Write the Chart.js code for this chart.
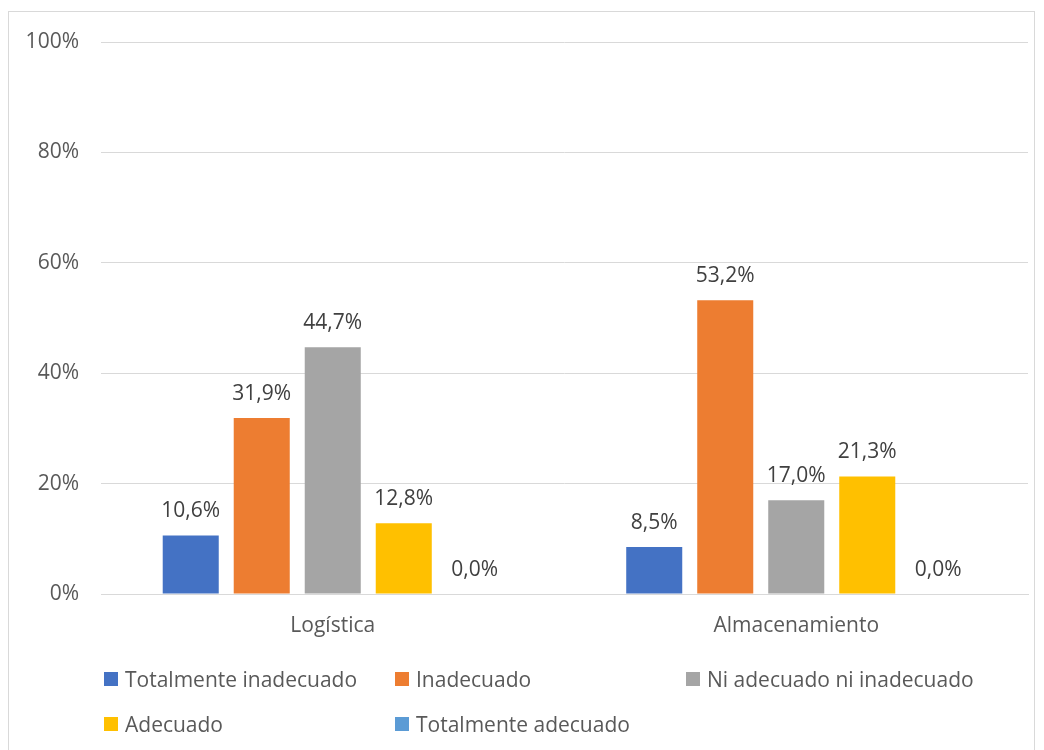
<!DOCTYPE html>
<html>
<head>
<meta charset="utf-8">
<script src="https://cdn.jsdelivr.net/npm/chart.js@4/dist/chart.umd.min.js"></script>
<style>
  html, body { margin: 0; padding: 0; background: #fff; }
  body { width: 1044px; height: 750px; position: relative; overflow: hidden; font-family: "Open Sans", sans-serif; }
  .frame { position: absolute; left: 8px; top: 11px; width: 1027px; height: 760px; border: 1px solid #d9d9d9; box-sizing: border-box; }
  .plot { position: absolute; left: 0; top: 0; width: 1044px; height: 650px; }
  .legend { position: absolute; left: 0; top: 0; width: 1044px; height: 750px; pointer-events: none; }
  .legend .item { position: absolute; display: flex; align-items: center; font-size: 21px; color: #595959; white-space: nowrap; }
  .legend .swatch { width: 14px; height: 14px; margin-right: 7px; }
</style>
</head>
<body>
<div class="frame"></div>
<div class="plot"><canvas id="chart"></canvas></div>
<div class="legend" id="legend"></div>
<script>
const categories = ['Logística', 'Almacenamiento'];
const seriesNames = ['Totalmente inadecuado', 'Inadecuado', 'Ni adecuado ni inadecuado', 'Adecuado', 'Totalmente adecuado'];
const totalmenteInadecuado = [10.6, 8.5];
const inadecuado = [31.9, 53.2];
const niAdecuadoNiInadecuado = [44.7, 17.0];
const adecuado = [12.8, 21.3];
const totalmenteAdecuado = [0.0, 0.0];
const yTicks = [0, 20, 40, 60, 80, 100];

const seriesValues = [totalmenteInadecuado, inadecuado, niAdecuadoNiInadecuado, adecuado, totalmenteAdecuado];
const colors = ['#4472C4', '#ED7D31', '#A5A5A5', '#FFC000', '#5B9BD5'];

const fmt = v => v.toFixed(1).replace('.', ',') + '%';

// Value labels drawn above each bar
const barLabels = {
  id: 'barLabels',
  afterDatasetsDraw(chart) {
    const ctx = chart.ctx;
    ctx.save();
    ctx.font = '21px "Open Sans", sans-serif';
    ctx.fillStyle = '#404040';
    ctx.textAlign = 'center';
    ctx.textBaseline = 'middle';
    chart.data.datasets.forEach((ds, i) => {
      chart.getDatasetMeta(i).data.forEach((bar, j) => {
        ctx.fillText(fmt(ds.data[j]), bar.x, bar.y - 24);
      });
    });
    ctx.restore();
  }
};

new Chart(document.getElementById('chart'), {
  type: 'bar',
  data: {
    labels: categories,
    datasets: seriesNames.map((name, i) => ({
      label: name,
      data: seriesValues[i],
      backgroundColor: colors[i],
      borderWidth: 0,
      categoryPercentage: 0.766,
      barPercentage: 0.789
    }))
  },
  options: {
    responsive: true,
    maintainAspectRatio: false,
    animation: false,
    layout: { padding: { top: 42, right: 16, bottom: 0, left: 0 } },
    plugins: { legend: { display: false }, tooltip: { enabled: false } },
    scales: {
      x: {
        grid: { display: false, drawTicks: false },
        border: { display: true, color: '#d9d9d9', width: 1 },
        ticks: { color: '#595959', font: { family: '"Open Sans", sans-serif', size: 21 }, padding: 19 },
        afterFit(scale) { scale.height = 56; }
      },
      y: {
        min: 0, max: 100,
        afterBuildTicks(scale) { scale.ticks = yTicks.map(v => ({ value: v })); },
        grid: { color: '#d9d9d9', lineWidth: 1, drawTicks: false },
        border: { display: false },
        ticks: {
          color: '#595959',
          font: { family: '"Open Sans", sans-serif', size: 21 },
          padding: 22,
          callback: v => v + '%'
        },
        afterFit(scale) { scale.width = 101; }
      }
    }
  },
  plugins: [barLabels]
});

// Legend laid out in a three-column grid
const legendPos = [[104, 679], [395, 679], [686, 679], [104, 724], [395, 724]];
const legend = document.getElementById('legend');
seriesNames.forEach((name, i) => {
  const item = document.createElement('div');
  item.className = 'item';
  item.style.left = legendPos[i][0] + 'px';
  item.style.top = (legendPos[i][1] - 15) + 'px';
  item.style.height = '30px';
  const sw = document.createElement('span');
  sw.className = 'swatch';
  sw.style.background = colors[i];
  const tx = document.createElement('span');
  tx.textContent = name;
  item.appendChild(sw);
  item.appendChild(tx);
  legend.appendChild(item);
});
</script>
</body>
</html>
